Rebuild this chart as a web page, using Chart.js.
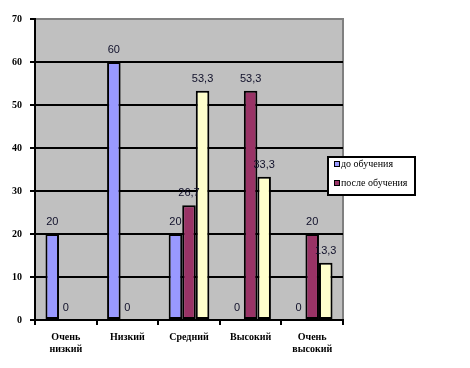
<!DOCTYPE html>
<html><head><meta charset="UTF-8">
<title>до и после обучения</title>
<script src="https://cdn.jsdelivr.net/npm/chart.js"></script>
<style>
  html, body { margin: 0; padding: 0; background: #ffffff; }
  #wrap { width: 470px; height: 368px; position: relative; }
</style></head><body>
<div id="wrap"><canvas id="chart" width="470" height="368"></canvas></div>
<script>
const categories = [['Очень', 'низкий'], 'Низкий', 'Средний', 'Высокий', ['Очень', 'высокий']];
const beforeValues = [20, 60, 20, 0, 0];
const afterValues = [0, 0, 26.7, 53.3, 20];
const thirdValues = [null, null, 53.3, 33.3, 13.3];
const seriesNames = ['до обучения', 'после обучения', ''];
const seriesColors = ['#9999ff', '#993366', '#ffffcc'];
const yTicks = [0, 10, 20, 30, 40, 50, 60, 70];

// gray plot area with thin gray frame on top/right
const plotBg = {
  id: 'plotBg',
  beforeDraw(chart) {
    const { ctx, chartArea: a } = chart;
    ctx.save();
    ctx.fillStyle = '#c0c0c0';
    ctx.fillRect(a.left, a.top, a.right - a.left, a.bottom - a.top);
    ctx.strokeStyle = '#808080';
    ctx.lineWidth = 2;
    ctx.strokeRect(a.left, a.top, a.right - a.left, a.bottom - a.top);
    ctx.restore();
  }
};

// numbers over the bars, comma as decimal mark
const valueLabels = {
  id: 'valueLabels',
  afterDatasetsDraw(chart) {
    const { ctx } = chart;
    ctx.save();
    ctx.font = '11px "Liberation Sans", Arial, sans-serif';
    ctx.fillStyle = '#10102a';
    ctx.textAlign = 'center';
    ctx.textBaseline = 'alphabetic';
    chart.data.datasets.forEach((ds, i) => {
      chart.getDatasetMeta(i).data.forEach((bar, j) => {
        const v = ds.data[j];
        if (v === null) return;
        ctx.fillText(String(v).replace('.', ','), bar.x, bar.y - 9);
      });
    });
    ctx.restore();
  }
};

// boxed legend like the original, only the two named series
const boxLegend = {
  id: 'boxLegend',
  afterDraw(chart) {
    const { ctx } = chart;
    const x = 328, y = 157, w = 87, h = 38;
    ctx.save();
    ctx.fillStyle = '#ffffff';
    ctx.fillRect(x, y, w, h);
    ctx.strokeStyle = '#000000';
    ctx.lineWidth = 2;
    ctx.strokeRect(x, y, w, h);
    ctx.font = '10px "Liberation Serif", "Times New Roman", serif';
    ctx.textBaseline = 'middle';
    chart.data.datasets.slice(0, 2).forEach((ds, i) => {
      const ly = y + 7 + i * 19;
      ctx.fillStyle = ds.backgroundColor;
      ctx.fillRect(x + 6, ly - 3, 6, 6);
      ctx.lineWidth = 1;
      ctx.strokeStyle = '#000000';
      ctx.strokeRect(x + 6.5, ly - 2.5, 5, 5);
      ctx.fillStyle = '#000000';
      ctx.fillText(ds.label, x + 13, ly);
    });
    ctx.restore();
  }
};

new Chart(document.getElementById('chart').getContext('2d'), {
  type: 'bar',
  data: {
    labels: categories,
    datasets: [0, 1, 2].map(i => ({
      label: seriesNames[i],
      data: [beforeValues, afterValues, thirdValues][i],
      backgroundColor: seriesColors[i],
      borderColor: '#000000',
      borderWidth: 2,
      borderSkipped: false,
      categoryPercentage: 0.66,
      barPercentage: 1.0
    }))
  },
  options: {
    responsive: false,
    animation: false,
    layout: { padding: { left: 0, top: 19, right: 127, bottom: 0 } },
    plugins: {
      legend: { display: false },
      tooltip: { enabled: false }
    },
    scales: {
      x: {
        afterFit(scale) { scale.height = 48; },
        grid: { display: true, drawOnChartArea: false, drawTicks: true, tickLength: 5, offset: true, color: '#000000', lineWidth: 2 },
        border: { display: true, color: '#000000', width: 2 },
        ticks: {
          color: '#000000',
          padding: 6,
          maxRotation: 0,
          autoSkip: false,
          font: { family: '"Liberation Serif", "Times New Roman", serif', size: 10, weight: 'bold', lineHeight: 1.2 }
        }
      },
      y: {
        min: 0,
        max: 70,
        afterFit(scale) { scale.width = 35; },
        afterBuildTicks(scale) { scale.ticks = yTicks.map(v => ({ value: v })); },
        grid: {
          color: ctx => (ctx.tick && ctx.tick.value === 70 ? 'rgba(0,0,0,0)' : '#000000'),
          tickColor: '#000000',
          lineWidth: 2,
          tickLength: 5
        },
        border: { display: true, color: '#000000', width: 2 },
        ticks: {
          color: '#000000',
          padding: 8,
          font: { family: '"Liberation Serif", "Times New Roman", serif', size: 10, weight: 'bold' }
        }
      }
    }
  },
  plugins: [plotBg, valueLabels, boxLegend]
});
</script>
</body></html>
